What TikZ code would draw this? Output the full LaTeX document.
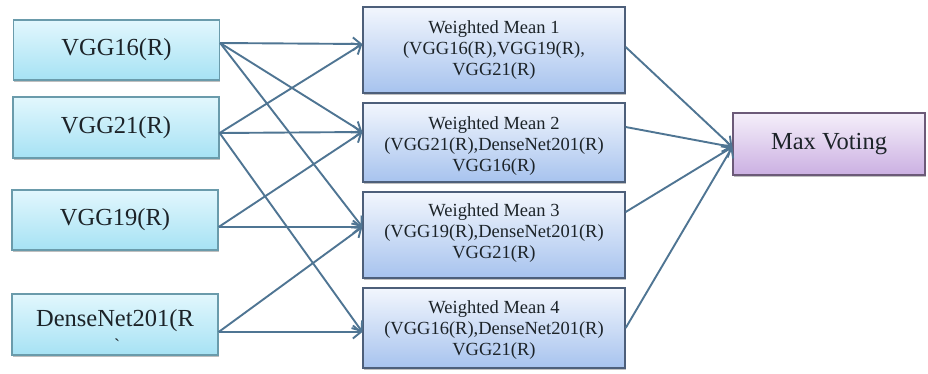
\documentclass[tikz,border=0pt]{standalone}
\usepackage{fontspec}
\setmainfont{Liberation Serif}
\usetikzlibrary{arrows.meta,shadows}
\definecolor{edgec}{HTML}{4F7593}
\definecolor{inbord}{HTML}{6A9BAB}
\definecolor{intop}{HTML}{E2F7FD}
\definecolor{inbot}{HTML}{A6E2F4}
\definecolor{wmbord}{HTML}{4D5F7A}
\definecolor{wmtop}{HTML}{F2F6FD}
\definecolor{wmbot}{HTML}{A7C3EE}
\definecolor{mvbord}{HTML}{6C5A78}
\definecolor{mvtop}{HTML}{F5EFFA}
\definecolor{mvbot}{HTML}{CBB0E2}
\definecolor{txt}{HTML}{1C2328}
\tikzset{
  boxbase/.style={draw, line width=1.3pt, inner sep=0pt, align=center, text=txt,
    drop shadow={shadow xshift=0.6pt, shadow yshift=-2.2pt, opacity=0.5}},
  inbox/.style={boxbase, draw=inbord, top color=intop, bottom color=inbot,
    minimum width=206pt, font=\fontsize{24.5}{26}\selectfont},
  wmbox/.style={boxbase, draw=wmbord, top color=wmtop, bottom color=wmbot,
    minimum width=262pt, font=\fontsize{18.5}{21}\selectfont},
  mvbox/.style={boxbase, draw=mvbord, top color=mvtop, bottom color=mvbot,
    minimum width=192pt, minimum height=62pt, font=\fontsize{24.5}{26}\selectfont},
  wmtext/.style={font=\fontsize{18.5}{21}\selectfont, align=center, text=txt},
  link/.style={draw=edgec, line width=1.9pt, -{Straight Barb[length=8pt,width=13pt,line width=1.9pt]}}
}
\begin{document}
\begin{tikzpicture}[x=1pt,y=-1pt]
\useasboundingbox[fill=white] (0,0) rectangle (928,373);
% input boxes
\node[inbox, minimum height=60pt] (v16) at (116.5,50) {VGG16(R)};
\node[inbox, minimum height=61pt] (v21) at (116,127.5) {VGG21(R)};
\node[inbox, minimum height=60pt] (v19) at (115,220) {VGG19(R)};
\node[inbox, minimum height=61pt] (dn) at (115,324.5) {};
\node[font=\fontsize{24.5}{26}\selectfont, text=txt] (dnt) at (115,321) {DenseNet201(R};
\node[font=\fontsize{18}{18}\selectfont, inner sep=0pt, text=txt] (dntick) at (117,345) {\textasciigrave};
% weighted mean boxes
\node[wmbox, minimum height=86pt] (w1) at (494,50) {Weighted Mean 1\\(VGG16(R),VGG19(R),\\VGG21(R)};
\node[wmbox, minimum height=79pt] (w2) at (494,142.5) {};
\node[wmtext] (w2t) at (494,146) {Weighted Mean 2\\(VGG21(R),DenseNet201(R)\\VGG16(R)};
\node[wmbox, minimum height=86pt] (w3) at (494,235) {};
\node[wmtext] (w3t) at (494,233) {Weighted Mean 3\\(VGG19(R),DenseNet201(R)\\VGG21(R)};
\node[wmbox, minimum height=80pt] (w4) at (494,328) {};
\node[wmtext] (w4t) at (494,330) {Weighted Mean 4\\(VGG16(R),DenseNet201(R)\\VGG21(R)};
% max voting
\node[mvbox] (mv) at (829,144) {Max Voting};
% ports
\coordinate (v16o) at ([yshift=7pt]v16.east);
\coordinate (v21o) at ([yshift=-5.5pt]v21.east);
\coordinate (v19o) at ([yshift=-7pt]v19.east);
\coordinate (dno) at ([yshift=-7.5pt]dn.east);
\coordinate (w1i) at ([yshift=6pt]w1.west);
\coordinate (w2i) at ([yshift=10.5pt]w2.west);
\coordinate (w3i) at ([yshift=8pt]w3.west);
\coordinate (w4i) at ([yshift=-4pt]w4.west);
\coordinate (w1o) at ([yshift=3pt]w1.east);
\coordinate (w2o) at ([yshift=15.5pt]w2.east);
\coordinate (w3o) at ([yshift=23pt]w3.east);
\coordinate (w4o) at (w4.east);
\coordinate (mvi) at ([yshift=-3pt]mv.west);
% connectors
\draw[link] (v16o) -- (w1i);
\draw[link] (v16o) -- (w2i);
\draw[link] (v16o) -- (w3i);
\draw[link] (v21o) -- (w1i);
\draw[link] (v21o) -- (w2i);
\draw[link] (v21o) -- (w4i);
\draw[link] (v19o) -- (w2i);
\draw[link] (v19o) -- (w3i);
\draw[link] (dno) -- (w3i);
\draw[link] (dno) -- (w4i);
\draw[link] (w1o) -- (mvi);
\draw[link] (w2o) -- (mvi);
\draw[link] (w3o) -- (mvi);
\draw[link] (w4o) -- (mvi);
\end{tikzpicture}
\end{document}
